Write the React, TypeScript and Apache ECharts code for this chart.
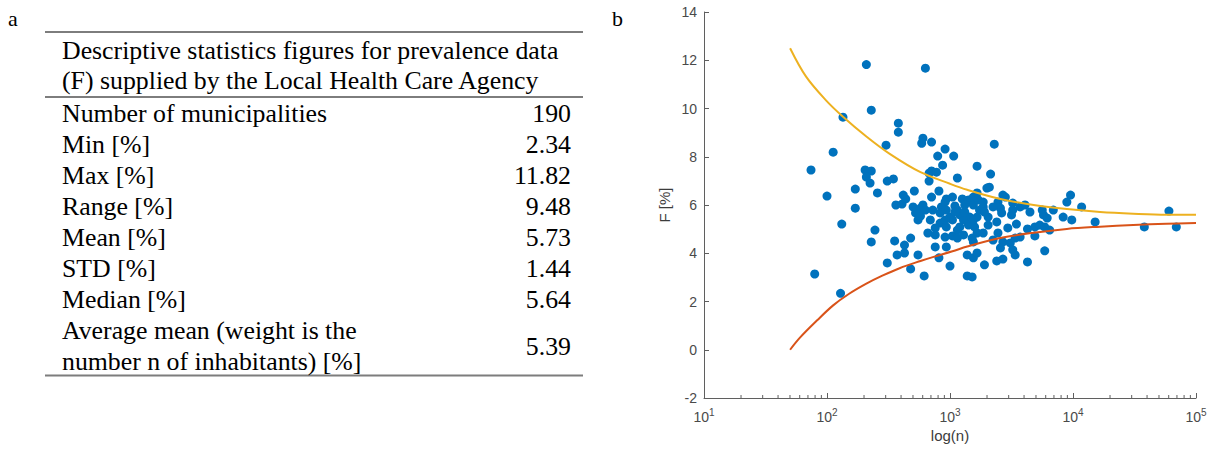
import React, { useEffect, useRef } from "react";
import * as echarts from "echarts";

// ---------- Table (panel a) ----------
const headerLines = [
  "Descriptive statistics figures for prevalence data",
  "(F) supplied by the Local Health Care Agency",
];
const rowLabels = [
  "Number of municipalities",
  "Min [%]",
  "Max [%]",
  "Range [%]",
  "Mean [%]",
  "STD [%]",
  "Median [%]",
];
const rowValues = ["190", "2.34", "11.82", "9.48", "5.73", "1.44", "5.64"];
const lastRowLabel = ["Average mean (weight is the", "number n of inhabitants) [%]"];
const lastRowValue = "5.39";

// ---------- Scatter (panel b): log10(n) and F [%] ----------
const logN = [
  1.87, 1.9, 2.0, 2.05, 2.13, 2.12, 2.11, 2.23, 2.23, 2.32, 2.36, 2.31, 2.36, 2.32, 2.35, 2.41, 2.39, 2.36, 2.48, 2.49,
  2.54, 2.49, 2.55, 2.57, 2.58, 2.58, 2.56, 2.61, 2.62, 2.64, 2.63, 2.63, 2.68, 2.68, 2.71, 2.7, 2.72, 2.74, 2.74, 2.76,
  2.77, 2.78, 2.8, 2.85, 2.96, 2.9, 3.03, 2.94, 3.22, 2.85, 2.83, 2.89, 3.06, 2.83, 2.91, 2.85, 2.78, 2.97, 3.02, 3.1,
  3.15, 2.93, 3.04, 3.12, 3.19, 2.92, 3.0, 3.08, 3.16, 3.22, 2.92, 2.97, 3.08, 3.15, 3.2, 2.82, 2.88, 2.96, 3.02, 3.11,
  2.88, 2.97, 2.91, 3.0, 2.79, 3.14, 3.19, 3.36, 3.33, 3.3, 3.32, 3.19, 3.23, 3.27, 3.43, 3.39, 3.51, 3.57, 3.61, 3.24,
  3.41, 3.42, 3.31, 3.5, 3.65, 3.75, 3.84, 3.76, 3.79, 3.92, 3.95, 3.98, 3.19, 3.31, 3.38, 3.47, 3.54, 3.63, 3.69, 3.73,
  3.77, 3.81, 3.22, 3.39, 3.57, 3.69, 3.19, 3.43, 3.49, 3.41, 3.51, 3.22, 3.53, 3.77, 3.38, 3.43, 3.28, 3.63, 3.18, 4.07,
  3.99, 4.18, 4.58, 4.78, 4.84, 3.22, 3.45, 2.96, 3.51, 2.76, 2.8, 2.86, 2.97, 3.06, 3.27, 3.35, 3.02, 3.11, 3.06, 3.27,
  3.06, 3.18, 3.35, 3.53, 3.14, 2.96, 3.04, 3.12, 3.28, 2.84, 2.88,
];
const prevalence = [
  7.45, 3.14, 6.37, 8.19, 9.64, 5.21, 2.34, 6.66, 5.87, 11.82, 9.93, 7.45, 7.41, 7.16, 6.91, 6.5, 4.96, 4.47, 8.48, 6.99,
  7.08, 3.6, 4.51, 3.93, 9.39, 9.02, 6.0, 6.04, 6.41, 6.25, 4.01, 4.34, 4.63, 3.35, 6.58, 5.92, 5.67, 5.38, 3.93, 5.54,
  8.56, 8.77, 11.67, 8.61, 8.32, 8.03, 8.03, 7.65, 7.61, 7.41, 7.32, 7.36, 7.12, 6.99, 6.58, 6.33, 6.0, 6.25, 6.33, 6.25,
  6.21, 5.92, 5.96, 6.0, 6.0, 5.67, 5.5, 5.59, 5.5, 5.5, 5.25, 5.09, 5.09, 5.17, 5.09, 4.84, 4.76, 4.67, 4.72, 4.76,
  4.26, 4.26, 3.81, 3.47, 3.06, 3.06, 3.81, 8.52, 7.28, 6.7, 6.74, 6.33, 6.21, 6.12, 6.41, 6.12, 6.08, 5.92, 6.0, 5.79,
  5.87, 5.67, 5.5, 5.59, 5.71, 5.79, 5.79, 5.59, 5.46, 5.5, 6.12, 6.41, 5.38, 5.17, 5.3, 5.05, 5.21, 5.01, 5.09, 5.17,
  5.09, 4.96, 4.84, 4.84, 4.67, 4.72, 4.47, 4.47, 4.43, 4.22, 4.14, 4.01, 3.93, 4.1, 3.68, 3.76, 3.52, 3.64, 3.02, 5.92,
  5.38, 5.3, 5.09, 5.75, 5.09, 6.5, 6.33, 6.12, 5.79, 5.87, 5.79, 5.79, 5.79, 5.79, 5.92, 5.92, 5.38, 5.38, 4.96, 4.84,
  4.63, 4.63, 4.55, 4.63, 3.93, 5.38, 5.71, 5.71, 5.71, 5.38, 5.05,
];

// Control limits
const upperLogN = [1.7, 1.83, 1.99, 2.13, 2.32, 2.51, 2.76, 3.0, 3.14, 3.41, 3.68, 3.95, 4.22, 4.49, 4.76, 5.0];
const upperF = [12.5, 11.32, 10.35, 9.66, 8.84, 8.12, 7.36, 6.88, 6.63, 6.25, 6.0, 5.83, 5.71, 5.64, 5.6, 5.6];
const lowerLogN = [1.7, 1.78, 1.92, 2.05, 2.18, 2.32, 2.45, 2.59, 2.76, 2.86, 3.02, 3.14, 3.41, 3.68, 3.95, 4.22, 4.49, 4.76, 5.0];
const lowerF = [0.0, 0.5, 1.22, 1.84, 2.32, 2.74, 3.07, 3.38, 3.68, 3.84, 4.08, 4.28, 4.63, 4.85, 5.01, 5.1, 5.17, 5.22, 5.25];

// Axis ticks
const decadeExponents = [1, 2, 3, 4];
const minorMantissas = [2, 3, 4, 5, 6, 7, 8, 9];

const AXIS_COLOR = "#5f5f5f";
const LABEL_COLOR = "#4a4a4a";
const SANS = "'Liberation Sans', Arial, Helvetica, sans-serif";
const SERIF = "'Liberation Serif', 'Times New Roman', serif";

function tText(text: string, x: number, y: number, align: string, size = 25.8) {
  return {
    type: "text",
    x,
    y,
    silent: true,
    style: {
      text,
      fontSize: size,
      fontFamily: SERIF,
      fill: "#000",
      align,
      verticalAlign: "middle",
      textAlign: align,
      textVerticalAlign: "middle",
    },
  };
}

function hLine(y: number) {
  return {
    type: "line",
    silent: true,
    shape: { x1: 45, y1: y, x2: 583, y2: y },
    style: { stroke: "#7d7d7d", lineWidth: 2 },
  };
}

export default function App() {
  const ref = useRef<HTMLDivElement>(null);

  useEffect(() => {
    if (!ref.current) return;
    const chart = echarts.init(ref.current, undefined, { renderer: "svg" });

    const scatterData = logN.map((x, i) => [x, prevalence[i]]);
    const upperData = upperLogN.map((x, i) => [x, upperF[i]]);
    const lowerData = lowerLogN.map((x, i) => [x, lowerF[i]]);
    const minorTicks: number[][] = [];
    decadeExponents.forEach((e) =>
      minorMantissas.forEach((m) => minorTicks.push([e + Math.log10(m), -2]))
    );

    const graphic: any[] = [];
    graphic.push(tText("a", 8, 18, "left", 22));
    graphic.push(tText("b", 612, 18, "left", 22));
    graphic.push(hLine(32));
    graphic.push(hLine(97));
    graphic.push(hLine(375.5));
    headerLines.forEach((t, i) => graphic.push(tText(t, 62, 50.5 + i * 30, "left")));
    rowLabels.forEach((t, i) => graphic.push(tText(t, 62, 113.5 + i * 31, "left")));
    rowValues.forEach((t, i) => graphic.push(tText(t, 571, 113.5 + i * 31, "right")));
    lastRowLabel.forEach((t, i) => graphic.push(tText(t, 62, 330.5 + i * 31, "left")));
    graphic.push(tText(lastRowValue, 571, 346, "right"));

    chart.setOption({
      animation: false,
      backgroundColor: "#ffffff",
      graphic,
      grid: { left: 704, top: 12, right: 22, bottom: 53, containLabel: false },
      xAxis: {
        type: "value",
        min: 1,
        max: 5,
        interval: 1,
        name: "log(n)",
        nameLocation: "middle",
        nameGap: 30,
        nameTextStyle: { fontSize: 15, color: "#3c3c3c", fontFamily: SANS },
        axisLine: { show: true, onZero: false, lineStyle: { color: AXIS_COLOR, width: 1 } },
        axisTick: { show: true, inside: true, length: 5, lineStyle: { color: AXIS_COLOR } },
        splitLine: { show: false },
        axisLabel: {
          margin: 9,
          formatter: (v: number) => `{b|10}{s|${v}}`,
          rich: {
            b: { fontSize: 14, color: LABEL_COLOR, fontFamily: SANS },
            s: { fontSize: 10, color: LABEL_COLOR, fontFamily: SANS, padding: [0, 0, 9, 0] },
          },
        },
      },
      yAxis: {
        type: "value",
        min: -2,
        max: 14,
        interval: 2,
        name: "F [%]",
        nameLocation: "middle",
        nameGap: 32,
        nameTextStyle: { fontSize: 15, color: "#3c3c3c", fontFamily: SANS },
        axisLine: { show: true, onZero: false, lineStyle: { color: AXIS_COLOR, width: 1 } },
        axisTick: { show: true, inside: true, length: 5, lineStyle: { color: AXIS_COLOR } },
        splitLine: { show: false },
        axisLabel: { margin: 7, fontSize: 14, color: LABEL_COLOR, fontFamily: SANS },
      },
      series: [
        {
          type: "custom",
          silent: true,
          data: minorTicks,
          encode: { x: 0, y: 1 },
          renderItem: (_params: any, api: any) => {
            const p = api.coord([api.value(0), api.value(1)]);
            return {
              type: "line",
              shape: { x1: p[0], y1: p[1], x2: p[0], y2: p[1] - 3 },
              style: { stroke: AXIS_COLOR, lineWidth: 1 },
            };
          },
        },
        {
          type: "scatter",
          data: scatterData,
          symbol: "circle",
          symbolSize: 9,
          itemStyle: { color: "#0072BD", opacity: 1 },
          silent: true,
        },
        {
          type: "line",
          data: upperData,
          smooth: 0.35,
          showSymbol: false,
          symbol: "none",
          lineStyle: { color: "#EDB120", width: 2 },
          silent: true,
        },
        {
          type: "line",
          data: lowerData,
          smooth: 0.35,
          showSymbol: false,
          symbol: "none",
          lineStyle: { color: "#D95319", width: 2 },
          silent: true,
        },
      ],
    });

    return () => chart.dispose();
  }, []);

  return (
    <div
      ref={ref}
      style={{ position: "fixed", left: 0, top: 0, width: 1218, height: 451, background: "#fff" }}
    />
  );
}
